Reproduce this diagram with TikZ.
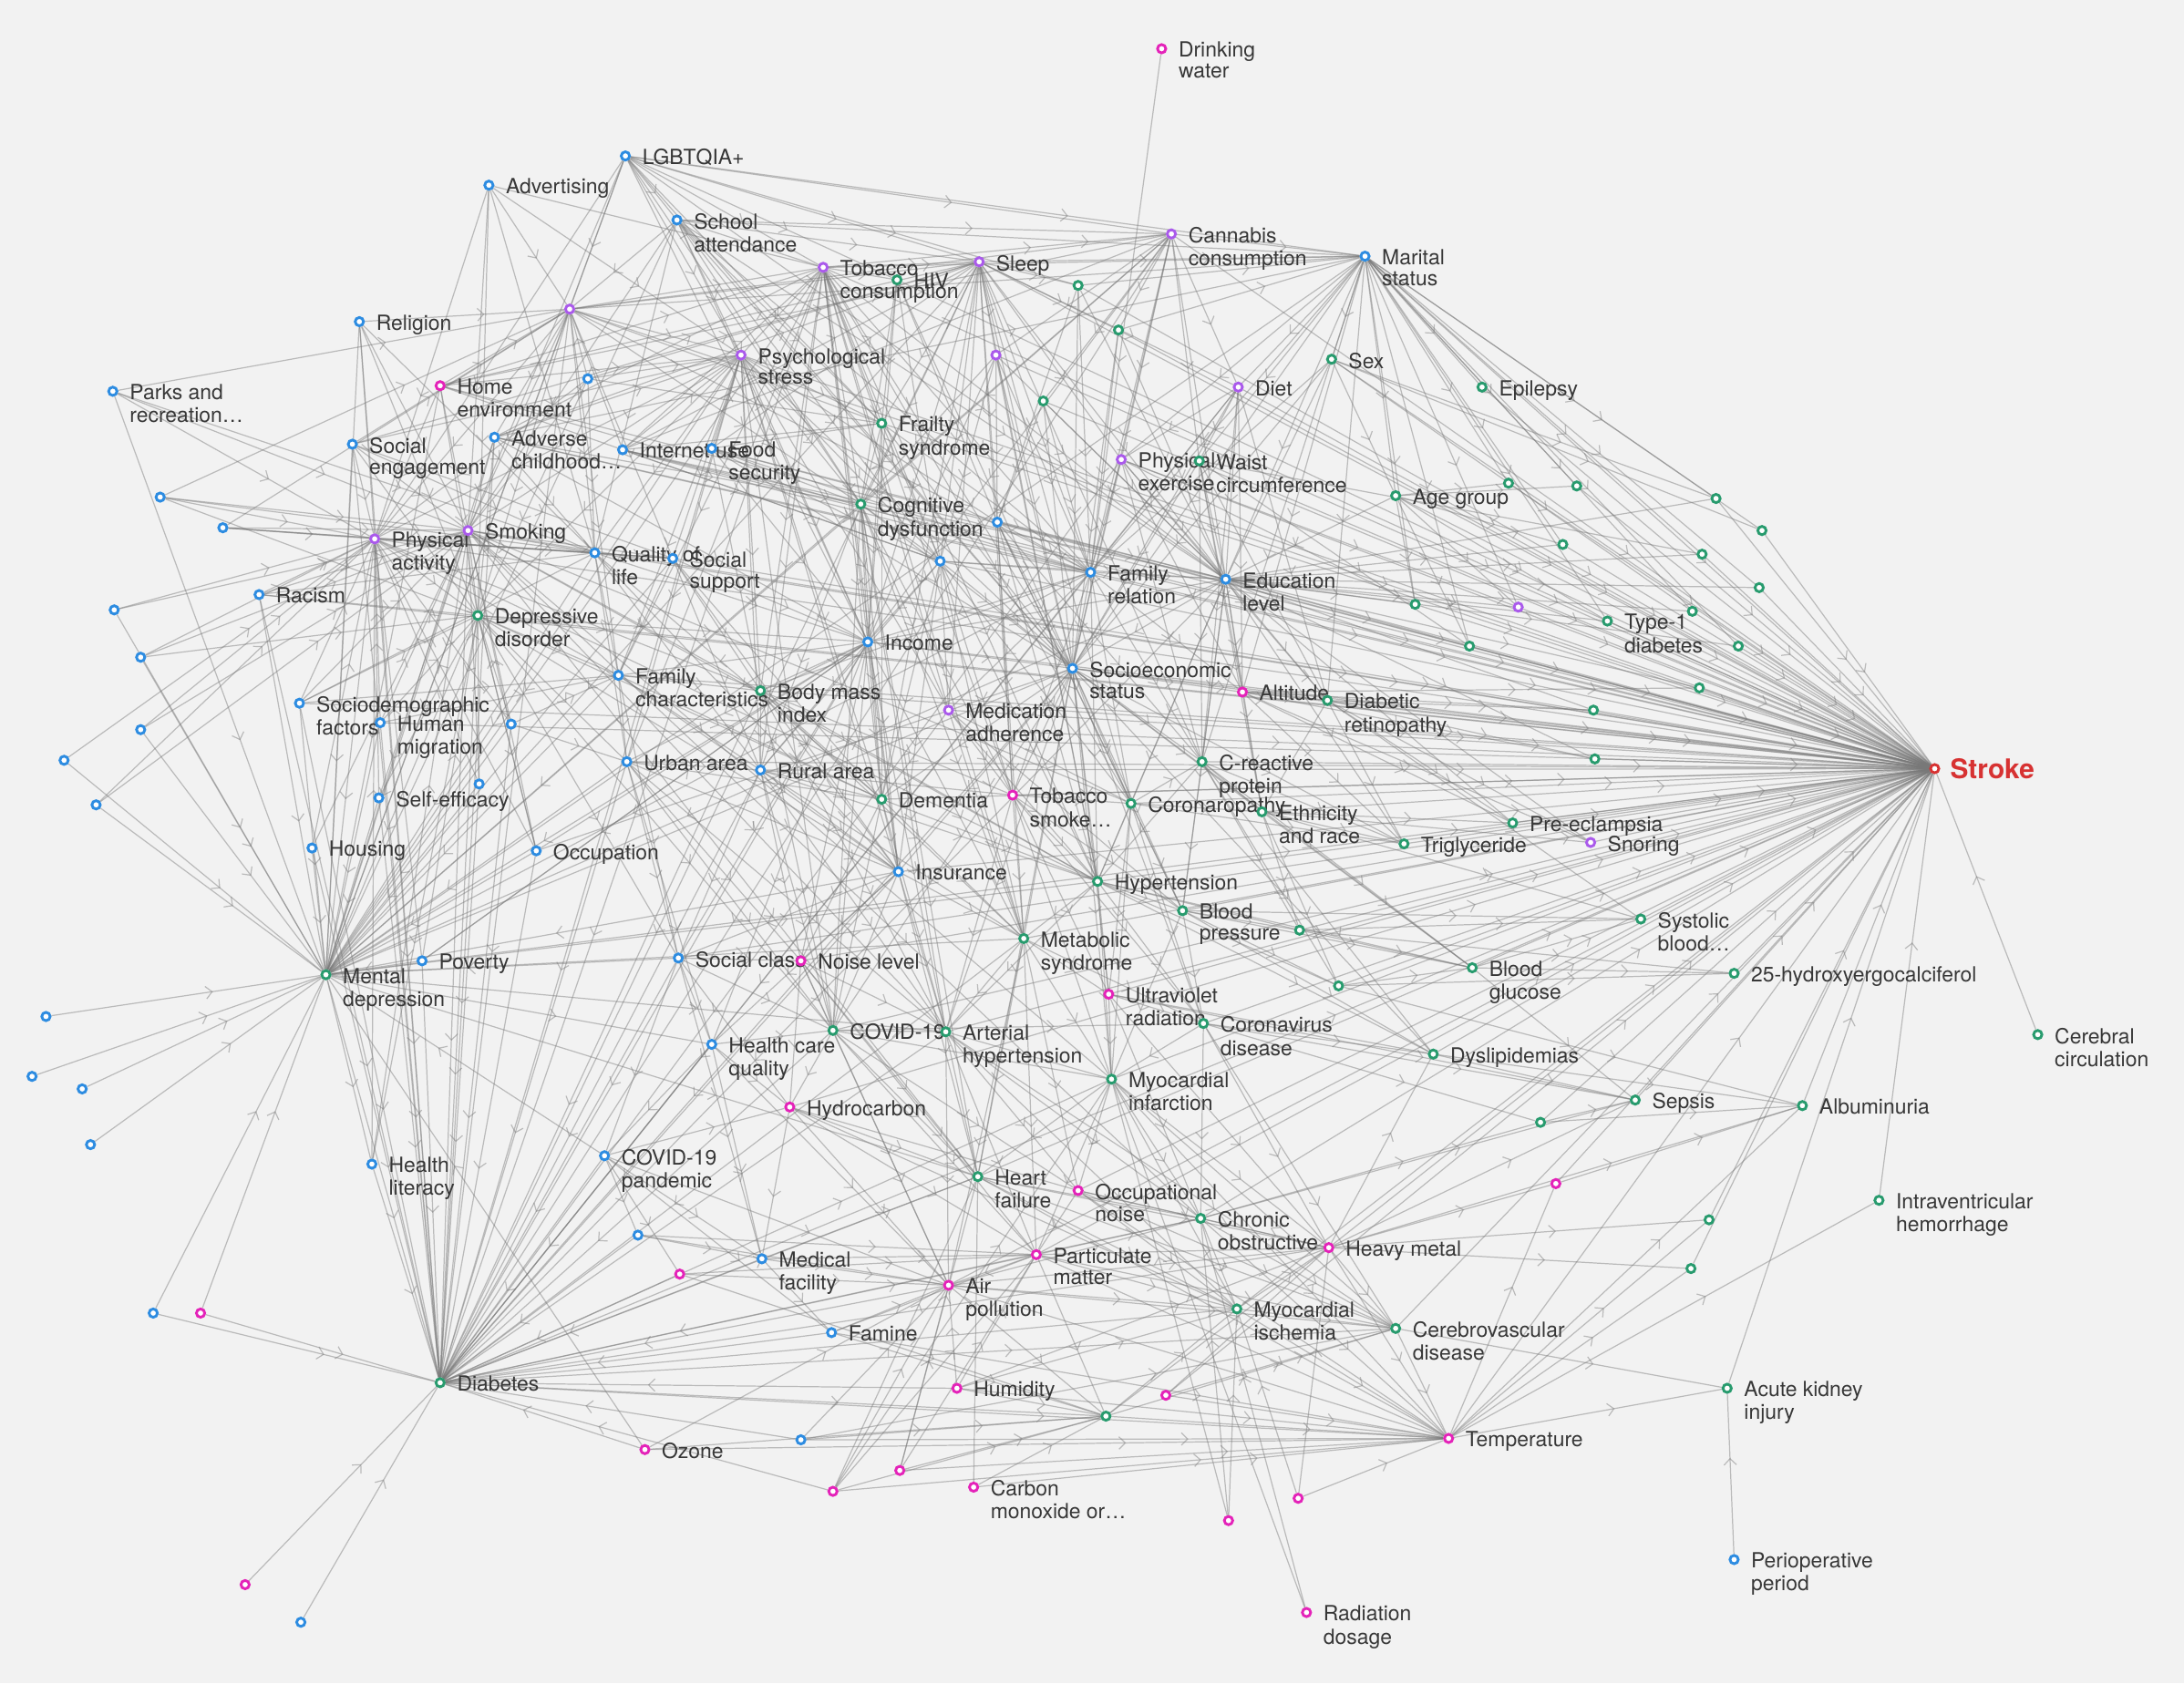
\documentclass[tikz,border=0pt]{standalone}
\usepackage{fontspec}
\setmainfont{TeX Gyre Heros}
\usetikzlibrary{arrows.meta,decorations.markings}
\pgfdeclarelayer{bgl}\pgfdeclarelayer{edl}
\pgfsetlayers{bgl,edl,main}
\definecolor{cB}{RGB}{45,140,225}
\definecolor{cG}{RGB}{40,155,110}
\definecolor{cM}{RGB}{228,35,185}
\definecolor{cP}{RGB}{170,90,235}
\definecolor{cR}{RGB}{215,50,50}
\definecolor{cE}{RGB}{120,120,120}
\definecolor{cT}{RGB}{55,55,55}
\definecolor{cBG}{RGB}{242,242,242}
\tikzset{
 dotn/.style={circle, fill=white, line width=1.9pt, minimum size=6pt, inner sep=0pt},
 lbl/.style={anchor=north west, inner sep=0pt, align=left, text=cT, font=\fontsize{15}{15}\selectfont},
 edge/.style={draw=cE, draw opacity=0.45, line width=0.8pt, postaction={decorate},
   decoration={markings, mark=at position 0.6 with {\arrow{Straight Barb[length=4.5pt,width=9pt]}}}}
}
\newcommand\mkn[5]{\node[dotn,draw=#4] (#1) at (#2,#3) {};\node[lbl] (#1-l) at ({#2+12},{#3-5}) {\strut #5};}
\newcommand\mkd[4]{\node[dotn,draw=#4] (#1) at (#2,#3) {};}
\newcommand\edgesfrom[2]{\foreach \tg in {#2}{\draw[edge] (#1) -- (\tg);}}
\newcommand\edgesto[2]{\foreach \sg in {#2}{\draw[edge] (\sg) -- (#1);}}
\begin{document}
\begin{tikzpicture}[x=1pt,y=-1pt]
\begin{pgfonlayer}{bgl}
\fill[cBG] (0,0) rectangle (1568,1209);
\end{pgfonlayer}
\useasboundingbox (0,0) rectangle (1568,1209);
% labelled nodes
\mkn{dw}{834}{35}{cM}{Drinking\\water}
\mkn{lgb}{449}{112}{cB}{LGBTQIA+}
\mkn{adv}{351}{133}{cB}{Advertising}
\mkn{sch}{486}{158}{cB}{School\\attendance}
\mkn{can}{841}{168}{cP}{Cannabis\\consumption}
\mkn{mar}{980}{184}{cB}{Marital\\status}
\mkn{tob}{591}{192}{cP}{Tobacco\\consumption}
\mkn{hiv}{644}{201}{cG}{HIV}
\mkn{slp}{703}{188}{cP}{Sleep}
\mkn{rel}{258}{231}{cB}{Religion}
\mkn{sex}{956}{258}{cG}{Sex}
\mkn{psy}{532}{255}{cP}{Psychological\\stress}
\mkn{home}{316}{277}{cM}{Home\\environment}
\mkn{pr}{81}{281}{cB}{Parks and\\recreation\ldots}
\mkn{diet}{889}{278}{cP}{Diet}
\mkn{epi}{1064}{278}{cG}{Epilepsy}
\mkn{fra}{633}{304}{cG}{Frailty\\syndrome}
\mkn{soce}{253}{319}{cB}{Social\\engagement}
\mkn{adc}{355}{314}{cB}{Adverse\\childhood\ldots}
\mkn{inet}{447}{323}{cB}{Internet use}
\mkn{food}{511}{322}{cB}{Food\\security}
\mkn{phe}{805}{330}{cP}{Physical\\exercise}
\mkn{waist}{861}{331}{cG}{Waist\\circumference}
\mkn{age}{1002}{356}{cG}{Age group}
\mkn{cog}{618}{362}{cG}{Cognitive\\dysfunction}
\mkn{pha}{269}{387}{cP}{Physical\\activity}
\mkn{smk}{336}{381}{cP}{Smoking}
\mkn{qol}{427}{397}{cB}{Quality of\\life}
\mkn{ss}{483}{401}{cB}{Social\\support}
\mkn{racism}{186}{427}{cB}{Racism}
\mkn{famr}{783}{411}{cB}{Family\\relation}
\mkn{edu}{880}{416}{cB}{Education\\level}
\mkn{dep}{343}{442}{cG}{Depressive\\disorder}
\mkn{tdm}{1154}{446}{cG}{Type-1\\diabetes}
\mkn{inc}{623}{461}{cB}{Income}
\mkn{ses}{770}{480}{cB}{Socioeconomic\\status}
\mkn{famc}{444}{485}{cB}{Family\\characteristics}
\mkn{bmi}{546}{496}{cG}{Body mass\\index}
\mkn{alt}{892}{497}{cM}{Altitude}
\mkn{dret}{953}{503}{cG}{Diabetic\\retinopathy}
\mkn{sdf}{215}{505}{cB}{Sociodemographic\\factors}
\mkn{hm}{273}{519}{cB}{Human\\migration}
\mkn{med}{681}{510}{cP}{Medication\\adherence}
\mkn{crp}{863}{547}{cG}{C-reactive\\protein}
\mkn{urb}{450}{547}{cB}{Urban area}
\mkn{rur}{546}{553}{cB}{Rural area}
\mkn{tsm}{727}{571}{cM}{Tobacco\\smoke\ldots}
\mkn{dem}{633}{574}{cG}{Dementia}
\mkn{cor}{812}{577}{cG}{Coronaropathy}
\mkn{eth}{906}{583}{cG}{Ethnicity\\and race}
\mkn{pe}{1086}{591}{cG}{Pre-eclampsia}
\mkn{snor}{1142}{605}{cP}{Snoring}
\mkn{tri}{1008}{606}{cG}{Triglyceride}
\mkn{sef}{272}{573}{cB}{Self-efficacy}
\mkn{hous}{224}{609}{cB}{Housing}
\mkn{occ}{385}{611}{cB}{Occupation}
\mkn{ins}{645}{626}{cB}{Insurance}
\mkn{hyp}{788}{633}{cG}{Hypertension}
\mkn{bp}{849}{654}{cG}{Blood\\pressure}
\mkn{sbp}{1178}{660}{cG}{Systolic\\blood\ldots}
\mkn{met}{735}{674}{cG}{Metabolic\\syndrome}
\mkn{pov}{303}{690}{cB}{Poverty}
\mkn{scl}{487}{688}{cB}{Social class}
\mkn{noise}{575}{690}{cM}{Noise level}
\mkn{bg}{1057}{695}{cG}{Blood\\glucose}
\mkn{vitd}{1245}{699}{cG}{25-hydroxyergocalciferol}
\mkn{md}{234}{700}{cG}{Mental\\depression}
\mkn{uv}{796}{714}{cM}{Ultraviolet\\radiation}
\mkn{covd}{864}{735}{cG}{Coronavirus\\disease}
\mkn{cov}{598}{740}{cG}{COVID-19}
\mkn{ah}{679}{741}{cG}{Arterial\\hypertension}
\mkn{cc}{1463}{743}{cG}{Cerebral\\circulation}
\mkn{hcq}{511}{750}{cB}{Health care\\quality}
\mkn{dys}{1029}{757}{cG}{Dyslipidemias}
\mkn{mi}{798}{775}{cG}{Myocardial\\infarction}
\mkn{sep}{1174}{790}{cG}{Sepsis}
\mkn{alb}{1294}{794}{cG}{Albuminuria}
\mkn{hc}{567}{795}{cM}{Hydrocarbon}
\mkn{cp}{434}{830}{cB}{COVID-19\\pandemic}
\mkn{hl}{267}{836}{cB}{Health\\literacy}
\mkn{hf}{702}{845}{cG}{Heart\\failure}
\mkn{onoise}{774}{855}{cM}{Occupational\\noise}
\mkn{ivh}{1349}{862}{cG}{Intraventricular\\hemorrhage}
\mkn{copd}{862}{875}{cG}{Chronic\\obstructive}
\mkn{hmet}{954}{896}{cM}{Heavy metal}
\mkn{pm}{744}{901}{cM}{Particulate\\matter}
\mkn{mf}{547}{904}{cB}{Medical\\facility}
\mkn{ap}{681}{923}{cM}{Air\\pollution}
\mkn{mis}{888}{940}{cG}{Myocardial\\ischemia}
\mkn{cvd}{1002}{954}{cG}{Cerebrovascular\\disease}
\mkn{fam}{597}{957}{cB}{Famine}
\mkn{diab}{316}{993}{cG}{Diabetes}
\mkn{aki}{1240}{997}{cG}{Acute kidney\\injury}
\mkn{hum}{687}{997}{cM}{Humidity}
\mkn{temp}{1040}{1033}{cM}{Temperature}
\mkn{ozone}{463}{1041}{cM}{Ozone}
\mkn{cmo}{699}{1068}{cM}{Carbon\\monoxide or\ldots}
\mkn{peri}{1245}{1120}{cB}{Perioperative\\period}
\mkn{rad}{938}{1158}{cM}{Radiation\\dosage}
\node[dotn,draw=cR] (stroke) at (1389,552) {};
\node[anchor=west, inner sep=0pt, text=cR, font=\bfseries\fontsize{19.5}{19.5}\selectfont] (stroke-l) at (1400,552) {Stroke};
% unlabelled nodes
\mkd{p1}{409}{222}{cP}\mkd{p2}{715}{255}{cP}\mkd{p3}{1090}{436}{cP}
\mkd{g1}{774}{205}{cG}\mkd{g2}{803}{237}{cG}\mkd{g3}{749}{288}{cG}\mkd{g4}{1083}{347}{cG}
\mkd{g5}{1132}{349}{cG}\mkd{g6}{1232}{358}{cG}\mkd{g7}{1265}{381}{cG}\mkd{g8}{1122}{391}{cG}
\mkd{g9}{1222}{398}{cG}\mkd{g10}{1263}{422}{cG}\mkd{g11}{1016}{434}{cG}\mkd{g12}{1055}{464}{cG}
\mkd{g13}{1215}{439}{cG}\mkd{g14}{1248}{464}{cG}\mkd{g15}{1220}{494}{cG}\mkd{g16}{1144}{510}{cG}
\mkd{g17}{1145}{545}{cG}\mkd{g18}{933}{668}{cG}\mkd{g19}{961}{708}{cG}\mkd{g20}{1106}{806}{cG}
\mkd{g21}{1227}{876}{cG}\mkd{g22}{1214}{911}{cG}\mkd{g23}{794}{1017}{cG}
\mkd{m1}{144}{943}{cM}\mkd{m2}{488}{915}{cM}\mkd{m3}{1117}{850}{cM}\mkd{m4}{837}{1002}{cM}
\mkd{m5}{646}{1056}{cM}\mkd{m6}{598}{1071}{cM}\mkd{m7}{932}{1076}{cM}\mkd{m8}{882}{1092}{cM}\mkd{m9}{176}{1138}{cM}
\mkd{b1}{115}{357}{cB}\mkd{b2}{160}{379}{cB}\mkd{b3}{82}{438}{cB}\mkd{b4}{101}{472}{cB}
\mkd{b5}{101}{524}{cB}\mkd{b6}{46}{546}{cB}\mkd{b7}{69}{578}{cB}\mkd{b8}{422}{272}{cB}
\mkd{b9}{716}{375}{cB}\mkd{b10}{675}{403}{cB}\mkd{b11}{367}{520}{cB}\mkd{b12}{344}{563}{cB}
\mkd{b13}{33}{730}{cB}\mkd{b14}{23}{773}{cB}\mkd{b15}{59}{782}{cB}\mkd{b16}{65}{822}{cB}
\mkd{b17}{110}{943}{cB}\mkd{b18}{458}{887}{cB}\mkd{b19}{575}{1034}{cB}\mkd{b20}{216}{1165}{cB}
% connectors
\begin{pgfonlayer}{edl}
\edgesto{stroke}{mar,sex,epi,age,edu,famr,diet,phe,waist,alt,dret,crp,eth,pe,snor,tri,hyp,bp,sbp,bg,vitd,dys,sep,alb,ivh,aki,cc,tdm,p3,g4,g5,g6,g7,g8,g9,g10,g11,g12,g13,g14,g15,g16,g17,g18,g19,g20,g21,g22,m3,hmet,temp,cvd,mis,copd,mi,covd,uv,met,md,diab,smk,pha,dep,cog,ses,inc,slp,can,tob,psy,cor,dem,tsm,ah,hf,ap,pm,onoise,b10,b9,g2,g3,fra,hiv,g1,rur,urb,famc,bmi,med,qol,ss,home,adc,inet,food,sdf,hm,racism,cov,ins,scl,noise,hc,p2,p1}
\edgesto{md}{b13,b14,b15,b16,b17,m1,b6,b7,b5,b4,b3,racism,sdf,hous,sef,hm,pr,rel,soce,pha,smk,dep,pov,adc,home,b11,b12,occ,qol,ss,famc,urb,inc,ses,edu,mar,p1,psy,tob,slp,cog,ins,scl,cp,can,lgb,sch,famr}
\edgesfrom{md}{diab,hl,hcq,ah,hyp,met,hf}
\edgesto{diab}{m9,b20,m1,b17,hl,ozone,pov,sef,hous,pha,smk,dep,racism,sdf,occ,scl,hcq,cp,mf,fam,m6,b19,hum,ap,pm,met,cov,ins,rur,urb,inc,ses,edu,famr,bmi,diet,phe,slp,psy,can,tob,p1,adc,b12,b11,hm,soce,rel,b18,m2}
\edgesfrom{diab}{g23,cvd,mis,hmet,temp,hf,copd,ah,mi}
\edgesto{p1}{adv,lgb,sch,rel,pr,soce,home,adc,inet,b8,b1,b2}
\edgesfrom{p1}{pha,smk,qol,ss,psy,tob,slp,can,dep,famc,cog,fra,mar,famr}
\edgesfrom{lgb}{can,mar,slp,tob,sch,psy,fra,smk,pha,hiv,g1,inc,edu,ses,cog}
\edgesfrom{adv}{smk,pha,dep,qol,psy,tob}
\edgesfrom{sch}{tob,slp,can,psy,smk,fra,cog,mar,b10,inc,famr,edu,ses,qol}
\edgesfrom{rel}{pha,smk,dep,qol}
\edgesfrom{pr}{pha,smk,qol}
\edgesfrom{home}{smk,pha,slp,psy,can,tob,dep,famr,b10}
\edgesfrom{soce}{pha,smk,dep,psy,qol,ss,slp}
\edgesfrom{adc}{psy,dep,smk,slp,tob,cog,qol,inc,famr,mar}
\edgesfrom{inet}{slp,psy,can,tob,fra,cog,b10,famr,edu}
\edgesfrom{food}{slp,psy,fra,cog,b10,inc,famr,edu,ses,bmi}
\edgesfrom{b8}{smk,pha,psy,qol,dep,slp,fra}
\edgesfrom{b1}{pha,smk,dep,qol}
\edgesfrom{b2}{pha,smk,qol,ss}
\edgesfrom{b3}{pha,smk}
\edgesfrom{b4}{pha,smk,dep}
\edgesfrom{b5}{pha,smk}
\edgesfrom{b6}{pha}
\edgesfrom{b7}{pha,smk}
\edgesfrom{racism}{pha,smk,dep,qol}
\edgesfrom{sdf}{pha,smk,dep,qol,famc}
\edgesfrom{hm}{pha,smk,dep,famc}
\edgesfrom{sef}{smk,pha,dep}
\edgesfrom{hous}{smk,pha}
\edgesfrom{b11}{smk,pha,dep,famc,urb}
\edgesfrom{b12}{pha,smk,dep}
\edgesfrom{occ}{smk,pha,dep,inc,ses}
\edgesfrom{pov}{pha,dep,inc}
\edgesfrom{hl}{pha,smk}
\edgesfrom{pha}{qol,ss,dep,bmi,famc,hyp}
\edgesfrom{smk}{qol,ss,dep,hyp,cor,copd,mi,hf,ah,bmi}
\edgesfrom{tob}{psy,fra,cog,b10,inc,dem,med,famc,bmi,rur,urb,hiv,ses,ins,slp,can,famr,edu,tsm,mar,cor,hyp,met}
\edgesfrom{slp}{fra,cog,b9,b10,famr,edu,ses,inc,dem,med,mar,g1,g2,p2,diet,phe,hyp,cor,crp,tsm}
\edgesfrom{can}{mar,edu,ses,famr,phe,diet,waist,g2,g3,p2,cog,inc}
\edgesfrom{psy}{fra,cog,dep,smk,pha,inc,famc,bmi,rur,urb,qol,ss,b10,b9,ses,dem,ins,cov,med}
\edgesfrom{hiv}{cog,fra,b10,b9,inc,ses}
\edgesfrom{g1}{famr,edu,b9,mar,ses}
\edgesfrom{g2}{famr,edu,ses,mar}
\edgesfrom{g3}{famr,b9,edu,ses}
\edgesfrom{p2}{b9,b10,famr,cog,inc,ses,edu,hyp}
\edgesfrom{fra}{cog,b10,inc,dem,ses,famr}
\edgesfrom{cog}{dem,ins,met,cov,ah,hf,tsm,inc,ses,med,rur,b10}
\edgesfrom{mar}{age,sex,epi,edu,famr,phe,g4,g5,g6,g7,g8,g11,g12,alt,dret,ses,crp,waist,diet,p3,tdm,g9,g10,g13,g14}
\edgesfrom{sex}{edu,age,g6,g7,ses,famr,g13}
\edgesfrom{age}{g4,g5,g8,g11,g12,tdm,p3,edu}
\edgesfrom{diet}{edu,ses,famr,phe,waist,alt,dret,crp}
\edgesfrom{phe}{edu,famr,ses,p3,crp,dret,g11,alt}
\edgesfrom{waist}{edu,ses,crp,dret,g12,alt,eth,g9}
\edgesfrom{edu}{ses,dret,alt,crp,eth,tri,g11,g12,p3,tdm,g16,g17,pe,g13,g14,g15,snor,inc,bp,hyp,cor,g6,g8,g9,g10}
\edgesfrom{famr}{ses,edu,inc,crp,cor,hyp,tsm,alt,bmi,med}
\edgesfrom{dw}{famr}
\edgesfrom{b9}{famr,edu,ses,hyp,cor,crp,bp,tsm,met}
\edgesfrom{b10}{ses,famr,edu,inc,dem,tsm,cor,hyp,ins,met,med,rur}
\edgesfrom{inc}{ses,ins,dem,rur,urb,hcq,scl,pov,cov,ah,met,famc,bmi,noise}
\edgesfrom{ses}{hyp,cor,met,ins,tsm,dem,crp,ah,hf,mi,bp,cov,dret,alt,eth,tri,bg,dys,covd,uv}
\edgesfrom{famc}{urb,rur,bmi,ins,scl,dem}
\edgesfrom{bmi}{rur,dem,tsm,met,hyp,ins,cov,ah}
\edgesfrom{med}{tsm,cor,hyp,met,bp,dem}
\edgesfrom{urb}{rur,ins,scl,noise,cov,hcq,dem,ah}
\edgesfrom{rur}{ins,dem,tsm,scl,noise,cov,met,hyp,ah}
\edgesfrom{qol}{famc,urb,inc,rur,ins,dem,ss}
\edgesfrom{ss}{famc,inc,rur,ins,dem,bmi}
\edgesfrom{dep}{famc,urb,occ,inc,ins,dem,cov,hl,scl}
\edgesfrom{dem}{ins,met,cov,ah,hyp,noise}
\edgesfrom{tsm}{cor,hyp,met,ah,bp,mi,uv,covd}
\edgesfrom{cor}{hyp,bp,crp,eth,tri,mi,uv,covd}
\edgesfrom{crp}{eth,tri,bp,hyp,bg,g18,g19,dys}
\edgesfrom{alt}{dret,eth,tri,pe,snor,g16,g17,g15}
\edgesfrom{dret}{eth,tri,pe,snor,g16,g17,sbp}
\edgesfrom{eth}{tri,pe,snor,sbp,bg,g18,g19}
\edgesfrom{hyp}{bp,met,mi,ah,uv,covd,g18,g19,dys,bg}
\edgesfrom{bp}{g18,g19,bg,dys,sbp,mi,covd}
\edgesfrom{ins}{met,cov,ah,scl,noise,hcq,hf}
\edgesfrom{met}{ah,hf,mi,uv,covd,ap,pm,onoise}
\edgesfrom{scl}{noise,cov,hcq,cp,hc,mf}
\edgesfrom{noise}{cov,ah,hc,hf,ap,pm}
\edgesfrom{hcq}{cov,cp,hc,mf,ap}
\edgesfrom{cp}{mf,hc,ap,fam,b18,m2}
\edgesfrom{cov}{ah,hf,mi,covd,hc,onoise,ap,pm}
\edgesfrom{ah}{hf,mi,mis,copd,cvd,onoise,pm,ap}
\edgesfrom{uv}{covd,mi,copd,hmet,dys,sep}
\edgesfrom{covd}{mi,copd,hmet,dys,sep,cvd,g20}
\edgesfrom{mi}{hf,copd,mis,cvd,hmet,onoise,pm,temp}
\edgesfrom{hc}{hf,ap,pm,onoise,mf,mis}
\edgesfrom{hf}{mis,cvd,copd,temp,hmet}
\edgesfrom{onoise}{pm,copd,hmet,mis,temp,cvd}
\edgesfrom{pm}{ap,mis,hmet,temp,cvd,copd,g23}
\edgesfrom{ap}{mis,copd,temp,cvd,hmet,g23}
\edgesfrom{mf}{ap,pm,fam,hf}
\edgesfrom{fam}{ap,pm,g23,temp}
\edgesfrom{b18}{ap,pm,mf}
\edgesfrom{m2}{ap,pm,g23}
\edgesfrom{copd}{mis,cvd,hmet,temp,g20,sep}
\edgesfrom{mis}{cvd,temp,hmet}
\edgesfrom{cvd}{temp,aki}
\edgesfrom{hmet}{cvd,temp,g21,g22,m3,sep,dys,alb}
\edgesfrom{temp}{g21,g22,aki,ivh,alb,m3}
\edgesfrom{hum}{g23,temp,hmet,ap,pm,mis}
\edgesfrom{g23}{temp,hmet,cvd,mis}
\edgesfrom{m4}{temp,hmet,cvd,stroke}
\edgesfrom{m5}{pm,ap,g23,temp,hf}
\edgesfrom{m6}{pm,ap,g23,temp,hf,mi}
\edgesfrom{m7}{mis,hmet,temp}
\edgesfrom{m8}{copd,mis,mi}
\edgesfrom{rad}{copd,mi}
\edgesfrom{cmo}{hf,g23,temp}
\edgesfrom{b19}{g23,temp,ap,cvd}
\edgesfrom{ozone}{md,temp,g23,ap}
\edgesfrom{peri}{aki}
\edgesfrom{g20}{sep,alb}
\edgesfrom{m3}{alb}
\edgesfrom{dys}{sep,alb}
\edgesfrom{bg}{vitd,sbp,sep}
\edgesfrom{g19}{vitd,alb,bg}
\edgesfrom{g18}{vitd,sbp,bg}
\end{pgfonlayer}
\end{tikzpicture}
\end{document}
